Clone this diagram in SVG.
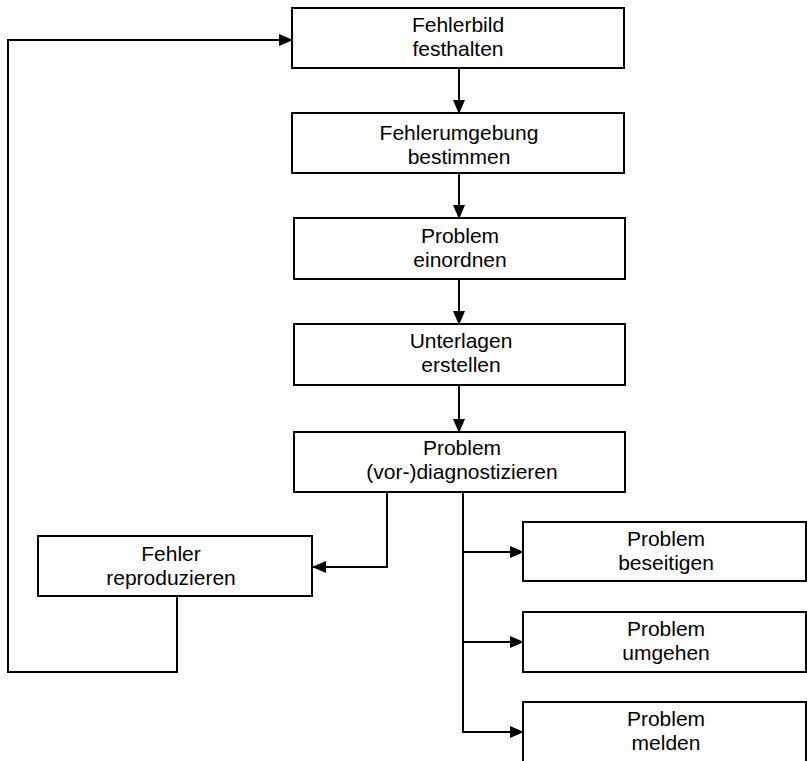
<svg xmlns="http://www.w3.org/2000/svg" width="807" height="761" viewBox="0 0 807 761">
<style>
.box{fill:#fff;stroke:#000;stroke-width:2}
.t{font-family:"Liberation Sans",Arial,sans-serif;font-size:21px;fill:#000;text-anchor:middle}
.c{fill:none;stroke:#000;stroke-width:2}
</style>
<defs>
<marker id="ah" markerUnits="userSpaceOnUse" markerWidth="14" markerHeight="12" refX="13" refY="6" orient="auto">
<path d="M0,0 L14,6 L0,12 Z" fill="#000"/>
</marker>
</defs>
<rect width="807" height="761" fill="#fff"/>
<g id="connectors">
<line class="c" x1="459" y1="68" x2="459" y2="113" marker-end="url(#ah)"/>
<line class="c" x1="459" y1="173" x2="459" y2="218" marker-end="url(#ah)"/>
<line class="c" x1="459" y1="279" x2="459" y2="324" marker-end="url(#ah)"/>
<line class="c" x1="459" y1="385" x2="459" y2="432" marker-end="url(#ah)"/>
<polyline class="c" points="387,492 387,567 313,567" marker-end="url(#ah)"/>
<polyline class="c" points="177,596 177,672 8,672 8,40 292,40" marker-end="url(#ah)"/>
<line class="c" x1="463" y1="492" x2="463" y2="732"/>
<line class="c" x1="462" y1="552" x2="523" y2="552" marker-end="url(#ah)"/>
<line class="c" x1="462" y1="642" x2="523" y2="642" marker-end="url(#ah)"/>
<line class="c" x1="462" y1="732" x2="523" y2="732" marker-end="url(#ah)"/>
</g>
<g id="n1"><rect class="box" x="292" y="8" width="332" height="60"/><text class="t" x="458" y="32">Fehlerbild</text><text class="t" x="458" y="56">festhalten</text></g>
<g id="n2"><rect class="box" x="292" y="113" width="332" height="60"/><text class="t" x="459" y="140">Fehlerumgebung</text><text class="t" x="459" y="164">bestimmen</text></g>
<g id="n3"><rect class="box" x="294" y="218" width="331" height="61"/><text class="t" x="460" y="243">Problem</text><text class="t" x="460" y="267">einordnen</text></g>
<g id="n4"><rect class="box" x="294" y="324" width="331" height="61"/><text class="t" x="461" y="348">Unterlagen</text><text class="t" x="461" y="372">erstellen</text></g>
<g id="n5"><rect class="box" x="294" y="432" width="331" height="60"/><text class="t" x="462" y="455">Problem</text><text class="t" x="462" y="479">(vor-)diagnostizieren</text></g>
<g id="n6"><rect class="box" x="38" y="536" width="274" height="60"/><text class="t" x="171" y="561">Fehler</text><text class="t" x="171" y="585">reproduzieren</text></g>
<g id="n7"><rect class="box" x="523" y="522" width="283" height="59"/><text class="t" x="666" y="546">Problem</text><text class="t" x="666" y="570">beseitigen</text></g>
<g id="n8"><rect class="box" x="523" y="612" width="283" height="60"/><text class="t" x="666" y="636">Problem</text><text class="t" x="666" y="660">umgehen</text></g>
<g id="n9"><rect class="box" x="523" y="702" width="283" height="70"/><text class="t" x="666" y="726">Problem</text><text class="t" x="666" y="750">melden</text></g>
</svg>
